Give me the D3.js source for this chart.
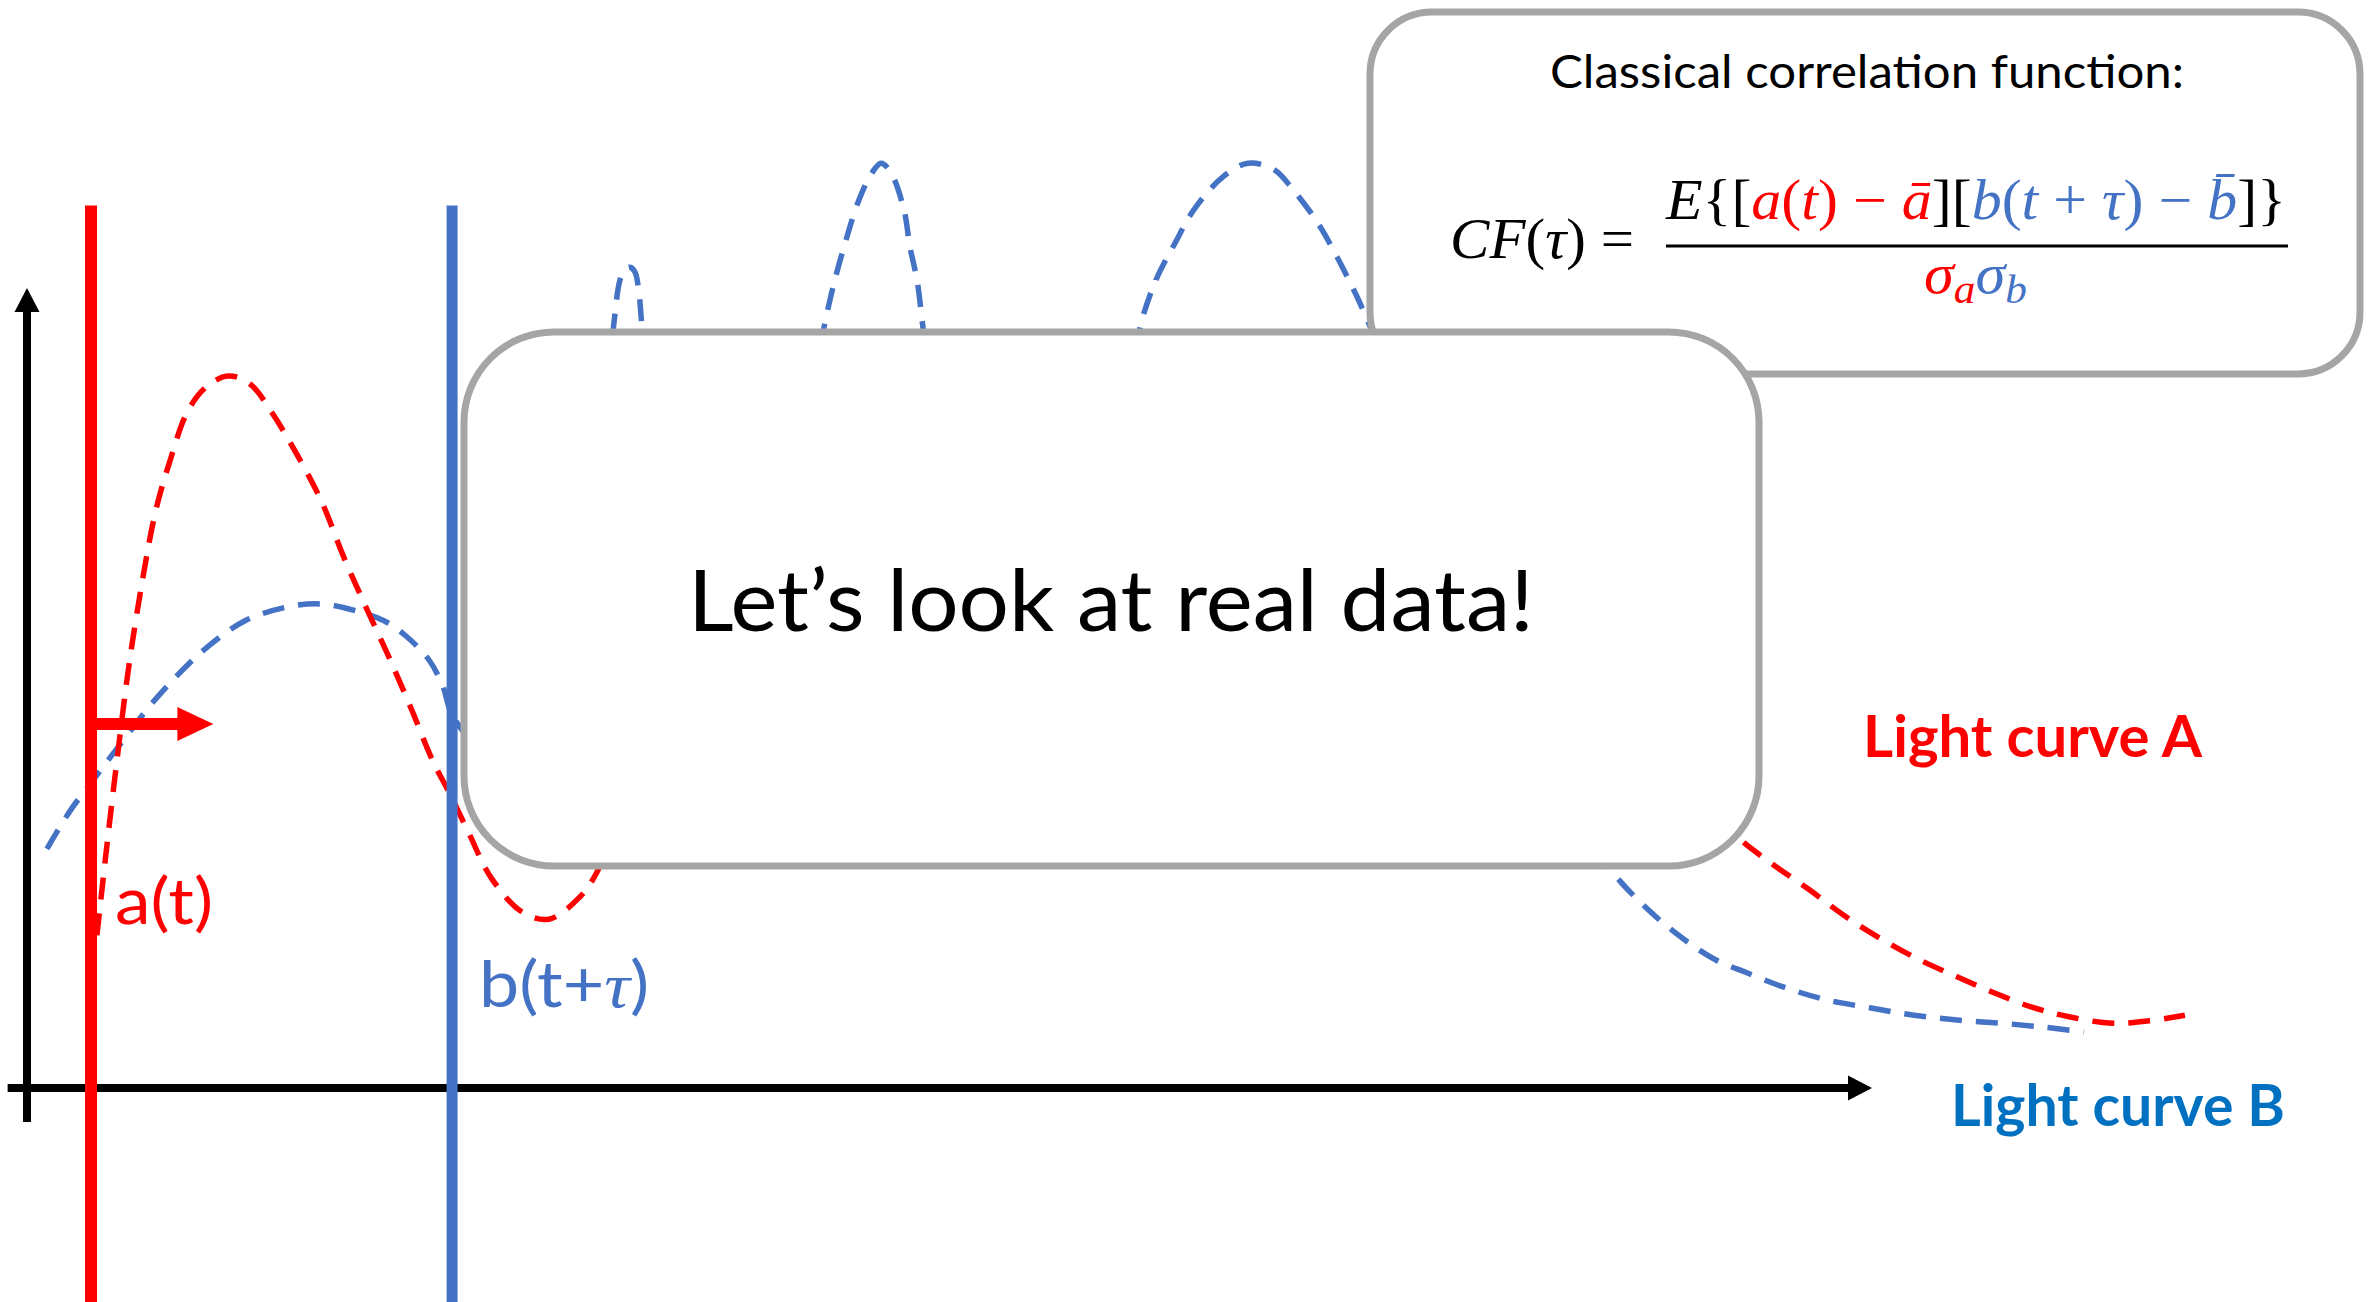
<!DOCTYPE html>
<html><head><meta charset="utf-8">
<script src="https://cdn.jsdelivr.net/npm/d3@7"></script>
<style>html,body{margin:0;padding:0;background:#fff;overflow:hidden}</style>
</head><body>
<svg id="chart" width="2371" height="1302"></svg>
<script>
// ---------------- data ----------------
const timeDomain = [0, 100];
const fluxDomain = [0, 100];
// Light curve A (red), [time, flux]
const lightCurveA = [
  [3.79,19.1],[4.34,30.5],[4.93,42.0],[5.53,52.9],[6.29,63.9],[6.99,72.3],[7.75,78.4],
  [8.67,84.4],[9.65,87.5],[10.89,89.0],[12.09,88.0],[13.28,84.4],[14.53,79.6],[15.93,73.5],
  [17.18,66.3],[18.37,60.1],[19.57,54.1],[20.81,47.5],[22.01,40.8],[22.98,36.5],[23.96,31.8],
  [25.15,26.3],[26.83,22.0],[28.29,21.1],[29.97,23.9],[30.73,26.3],[32.14,33.5],[36.48,54.8],
  [41.90,73.5],[47.32,83.5],[52.74,86.0],[58.16,82.3],[63.58,76.0],[69.00,71.0],[74.42,66.0],
  [79.84,58.5],[85.26,48.5],[89.59,38.5],[92.68,31.4],[94.53,28.1],[96.59,24.8],[98.59,21.4],
  [100.60,18.5],[102.60,16.0],[104.61,13.9],[106.61,11.9],[108.67,10.1],[110.68,8.9],
  [113.01,8.1],[115.01,8.4],[116.96,9.1]
];
// Light curve B (blue), [time, flux]
const lightCurveB = [
  [1.08,29.9],[2.38,34.8],[3.36,37.8],[4.34,40.8],[5.53,44.4],[6.78,48.1],[8.24,51.8],
  [9.92,55.4],[11.82,58.4],[14.04,60.1],[15.93,60.5],[17.89,59.6],[19.35,58.4],[20.54,56.5],
  [21.79,53.5],[22.49,50.5],[23.20,46.0],[25.64,41.0],[30.51,79.8],[31.71,93.5],
  [31.82,95.8],[32.14,101.0],[32.41,102.3],[32.68,102.6],[32.95,102.0],[33.17,99.4],[33.28,96.6],[33.44,92.9],
  [36.48,71.0],[41.90,79.8],[43.09,93.5],
  [43.20,95.1],[43.74,100.6],[44.39,106.0],[45.09,111.0],[45.80,114.4],[46.29,115.6],[46.83,114.4],
  [47.53,109.8],[47.86,105.1],[48.24,101.0],[48.56,95.1],[48.73,92.3],
  [50.57,71.0],[55.45,66.0],[59.24,83.5],[60.22,92.9],
  [60.33,95.1],[61.19,101.0],[62.22,105.6],[63.25,109.8],[64.82,113.9],[66.18,115.6],[67.59,114.8],
  [68.62,112.3],[69.97,108.1],[71.00,103.9],[72.09,98.9],[72.57,96.4],
  [73.60,91.0],[77.13,73.5],[81.46,48.5],[84.72,32.3],
  [85.85,27.3],[87.86,22.3],[89.86,18.5],[91.54,16.0],[93.22,14.4],[95.23,12.6],[97.56,11.0],
  [99.95,10.0],[102.28,9.1],[104.61,8.5],[106.99,8.1],[109.32,7.6],[111.49,7.0]
];
const markerTimes = [3.47, 23.04];          // a(t), b(t+tau)
const markerTop = 110.3;
const shiftArrowTimes = [3.47, 10.1];
const shiftArrowFlux = 45.5;
const yAxisFlux = [-4.25, 100];
const xAxisTimes = [-1.05, 100];
const labels = {
  a: "a(t)", b: "b(t+", tau: "τ", bEnd: ")",
  A: "Light curve A", B: "Light curve B",
  main: "Let’s look at real data!",
  title: "Classical correlation function:"
};

// ---------------- drawing ----------------
const W = 2371, H = 1302;
const RED = "#FF0000", BLUE = "#4472C4", BLUE2 = "#0070C0", GREY = "#A5A5A5";
const svg = d3.select("#chart");
svg.append("rect").attr("width", W).attr("height", H).attr("fill", "#fff");

const x = d3.scaleLinear().domain(timeDomain).range([27, 1872]);
const y = d3.scaleLinear().domain(fluxDomain).range([1088, 288]);

const line = d3.line().x(d => x(d[0])).y(d => y(d[1])).curve(d3.curveCatmullRom.alpha(0.5));

// dashed light curves
svg.append("path").datum(lightCurveB).attr("d", line)
  .attr("fill", "none").attr("stroke", BLUE).attr("stroke-width", 5.5).attr("stroke-dasharray", "22,14");
svg.append("path").datum(lightCurveA).attr("d", line)
  .attr("fill", "none").attr("stroke", RED).attr("stroke-width", 5.5).attr("stroke-dasharray", "22,14");

// axes
const x0 = x(0), yAxisBottom = y(yAxisFlux[0]), yAxisTip = y(yAxisFlux[1]);
svg.append("line").attr("x1", x0).attr("x2", x0).attr("y1", yAxisBottom).attr("y2", yAxisTip + 20)
  .attr("stroke", "#000").attr("stroke-width", 8);
svg.append("path").attr("d", `M${x0},${yAxisTip} L${x0-12.5},${yAxisTip+24} L${x0+12.5},${yAxisTip+24} Z`).attr("fill", "#000");
const y0 = y(0), xl = x(xAxisTimes[0]), xTip = x(xAxisTimes[1]);
svg.append("line").attr("x1", xl).attr("x2", xTip - 20).attr("y1", y0).attr("y2", y0)
  .attr("stroke", "#000").attr("stroke-width", 8);
svg.append("path").attr("d", `M${xTip},${y0} L${xTip-24},${y0-12.5} L${xTip-24},${y0+12.5} Z`).attr("fill", "#000");

// marker lines
const markColors = [RED, BLUE];
svg.selectAll("line.marker").data(markerTimes).enter().append("line").attr("class", "marker")
  .attr("x1", d => x(d)).attr("x2", d => x(d)).attr("y1", y(markerTop)).attr("y2", H)
  .attr("stroke", (d, i) => markColors[i]).attr("stroke-width", (d, i) => i === 0 ? 12 : 11);

// shift arrow
const ax1 = x(shiftArrowTimes[0]), ax2 = x(shiftArrowTimes[1]), ay = y(shiftArrowFlux);
svg.append("line").attr("x1", ax1).attr("x2", ax2 - 30).attr("y1", ay).attr("y2", ay)
  .attr("stroke", RED).attr("stroke-width", 12);
svg.append("path").attr("d", `M${ax2},${ay} L${ax2-36},${ay-17} L${ax2-36},${ay+17} Z`).attr("fill", RED);

// labels a(t), b(t+tau)
svg.append("text").attr("x", x(markerTimes[0]) + 24).attr("y", 924)
  .attr("font-family", "Lato, 'Open Sans', sans-serif").attr("font-size", 64).attr("fill", RED)
  .attr("textLength", 98).attr("lengthAdjust", "spacingAndGlyphs").text(labels.a);
const bt = svg.append("text").attr("x", x(markerTimes[1]) + 27).attr("y", 1007)
  .attr("font-family", "Lato, 'Open Sans', sans-serif").attr("font-size", 64).attr("fill", BLUE)
  .attr("textLength", 170).attr("lengthAdjust", "spacingAndGlyphs");
bt.append("tspan").text(labels.b);
bt.append("tspan").attr("font-family", "'Liberation Serif', serif").attr("font-style", "italic").text(labels.tau);
bt.append("tspan").text(labels.bEnd);

// Light curve labels
svg.append("text").attr("x", 1863).attr("y", 757)
  .attr("font-family", "Lato, sans-serif").attr("font-weight", 700).attr("font-size", 57).attr("fill", RED)
  .attr("textLength", 339).attr("lengthAdjust", "spacingAndGlyphs").text(labels.A);
svg.append("text").attr("x", 1951).attr("y", 1126)
  .attr("font-family", "Lato, sans-serif").attr("font-weight", 700).attr("font-size", 57).attr("fill", BLUE2)
  .attr("textLength", 334).attr("lengthAdjust", "spacingAndGlyphs").text(labels.B);

// CF box
svg.append("rect").attr("x", 1370).attr("y", 12).attr("width", 990).attr("height", 362).attr("rx", 62)
  .attr("fill", "#fff").attr("stroke", GREY).attr("stroke-width", 7);
svg.append("text").attr("x", 1550).attr("y", 88)
  .attr("font-family", "Lato, sans-serif").attr("font-size", 46).attr("fill", "#000")
  .attr("textLength", 634).attr("lengthAdjust", "spacingAndGlyphs").text(labels.title);

const MF = "'Liberation Serif', 'DejaVu Serif', serif";
function addParts(t, parts) {
  parts.forEach(p => {
    const s = t.append("tspan").text(p[0]).attr("fill", p[1]);
    if (p[2]) s.attr("font-style", "italic");
    if (p[3]) s.attr("font-size", p[3]);
    if (p[4]) s.attr("dy", p[4]);
  });
}
const cf = svg.append("text").attr("x", 1450).attr("y", 258).attr("font-family", MF).attr("font-size", 58)
  .attr("textLength", 184).attr("lengthAdjust", "spacingAndGlyphs");
addParts(cf, [["CF", "#000", 1], ["(", "#000"], ["τ", "#000", 1], [")", "#000"], [" =", "#000"]]);

const num = svg.append("text").attr("x", 1666).attr("y", 219).attr("font-family", MF).attr("font-size", 56)
  .attr("textLength", 620).attr("lengthAdjust", "spacingAndGlyphs");
addParts(num, [
  ["E", "#000", 1], ["{[", "#000"],
  ["a", RED, 1], ["(", RED], ["t", RED, 1], [")", RED], [" − ", RED], ["ā", RED, 1],
  ["][", "#000"],
  ["b", BLUE, 1], ["(", BLUE], ["t", BLUE, 1], [" + ", BLUE], ["τ", BLUE, 1], [")", BLUE], [" − ", BLUE], ["b\u0304", BLUE, 1],
  ["]}", "#000"]
]);
svg.append("line").attr("x1", 1666).attr("x2", 2288).attr("y1", 246).attr("y2", 246)
  .attr("stroke", "#000").attr("stroke-width", 3);
const den = svg.append("text").attr("x", 1924).attr("y", 293).attr("font-family", MF).attr("font-size", 56)
  .attr("textLength", 103).attr("lengthAdjust", "spacingAndGlyphs");
addParts(den, [["σ", RED, 1], ["a", RED, 1, 40, 10], ["σ", BLUE, 1, 56, -10], ["b", BLUE, 1, 40, 10]]);

// main box (on top)
svg.append("rect").attr("x", 464).attr("y", 332).attr("width", 1295).attr("height", 534).attr("rx", 90)
  .attr("fill", "#fff").attr("stroke", GREY).attr("stroke-width", 7);
svg.append("text").attr("x", 1111).attr("y", 631).attr("text-anchor", "middle")
  .attr("font-family", "Lato, sans-serif").attr("font-size", 86).attr("fill", "#000")
  .attr("textLength", 846).attr("lengthAdjust", "spacingAndGlyphs").text(labels.main);
</script>
</body></html>
